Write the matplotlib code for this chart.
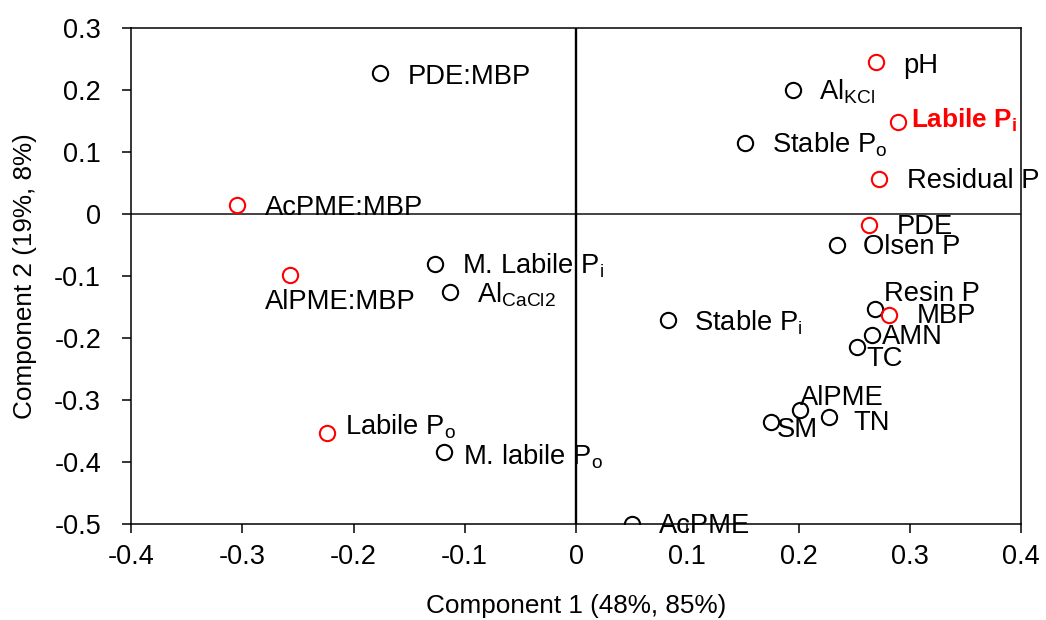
import matplotlib
matplotlib.use("Agg")
import matplotlib.pyplot as plt

plt.rcParams['font.family'] = ['Liberation Sans', 'DejaVu Sans']
plt.rcParams['mathtext.fontset'] = 'custom'
plt.rcParams['mathtext.rm'] = 'Liberation Sans'
plt.rcParams['mathtext.it'] = 'Liberation Sans:italic'
plt.rcParams['mathtext.bf'] = 'Liberation Sans:bold'

# PCA loadings: variable names, component 1 and component 2 scores
labels = [
    'PDE:MBP', 'AcPME:MBP', 'AlPME:MBP', r'M. Labile P$_\mathrm{i}$',
    r'Al$_\mathrm{CaCl2}$', r'Labile P$_\mathrm{o}$', r'M. labile P$_\mathrm{o}$',
    'AcPME', r'Stable P$_\mathrm{i}$', r'Stable P$_\mathrm{o}$',
    r'Al$_\mathrm{KCl}$', 'pH', r'Labile P$_\mathbf{i}$', 'Residual P', 'PDE',
    'Olsen P', 'Resin P', 'MBP', 'AMN', 'TC', 'AlPME', 'SM', 'TN',
]
comp1 = [-0.176, -0.305, -0.257, -0.127, -0.113, -0.224, -0.119, 0.050,
         0.083, 0.152, 0.195, 0.270, 0.289, 0.272, 0.263, 0.235, 0.269,
         0.281, 0.266, 0.253, 0.201, 0.175, 0.227]
comp2 = [0.227, 0.015, -0.098, -0.081, -0.126, -0.353, -0.384, -0.500,
         -0.171, 0.115, 0.200, 0.245, 0.148, 0.056, -0.018, -0.050, -0.153,
         -0.163, -0.195, -0.215, -0.316, -0.335, -0.327]
highlighted = [False, True, True, False, False, True, False, False, False,
               False, False, True, True, True, True, False, False, True,
               False, False, False, False, False]

x_ticks = [-0.4, -0.3, -0.2, -0.1, 0, 0.1, 0.2, 0.3, 0.4]
x_ticklabels = ['-0.4', '-0.3', '-0.2', '-0.1', '0', '0.1', '0.2', '0.3', '0.4']
y_ticks = [0.3, 0.2, 0.1, 0, -0.1, -0.2, -0.3, -0.4, -0.5]
y_ticklabels = ['0.3', '0.2', '0.1', '0', '-0.1', '-0.2', '-0.3', '-0.4', '-0.5']

# label offsets from each marker, in pixels
label_offsets = [
    (28, -11), (28, -10), (-25, -34), (27, -9), (27, -10), (18, -2),
    (19, -12), (27, -9), (26, -10), (27, -10), (26, -9), (27, -11),
    (13, -6), (28, -9), (28, -9), (26, -9), (9, 8), (28, -8), (10, -9),
    (9, -19), (0, 5), (6, -15), (25, -13),
]

FS_LABEL = 19.7
FS_BOLD = 18.8
FS_TICK = 19.5
FS_AXIS = 18.8
fig = plt.figure(figsize=(10.46, 6.2), dpi=100)
ax = fig.add_axes([131 / 1046, 96 / 620, 890 / 1046, 496 / 620])

ax.axhline(0, color='#222222', lw=1.2, zorder=1)
ax.axvline(0, color='black', lw=1.7, zorder=1)

for x, y, lab, hi, (dx, dy) in zip(comp1, comp2, labels, highlighted, label_offsets):
    col = 'red' if hi else 'black'
    ax.plot([x], [y], marker='o', ms=11, mfc='none', mec=col, mew=1.5,
            ls='none', zorder=3)
    bold = lab.startswith('Labile P$_\\mathbf')
    ax.annotate(lab, (x, y), xytext=(dx, dy), textcoords='offset pixels',
                ha='left', va='baseline',
                fontsize=FS_BOLD if bold else FS_LABEL,
                color='red' if bold else 'black',
                fontweight='bold' if bold else 'normal', zorder=4)

ax.set_xlim(-0.4, 0.4)
ax.set_ylim(-0.5, 0.3)
ax.set_xticks(x_ticks)
ax.set_xticklabels(x_ticklabels)
ax.set_yticks(y_ticks)
ax.set_yticklabels(y_ticklabels)
ax.tick_params(direction='out', length=6.5, width=1.1, labelsize=FS_TICK, pad=8)
ax.tick_params(axis='y', pad=15)
for s in ax.spines.values():
    s.set_linewidth(1.1)

ax.set_xlabel('Component 1 (48%, 85%)', fontsize=FS_AXIS, labelpad=17)
ax.set_ylabel('Component 2 (19%, 8%)', fontsize=FS_AXIS, labelpad=12)

fig.savefig('out.png', dpi=100)
